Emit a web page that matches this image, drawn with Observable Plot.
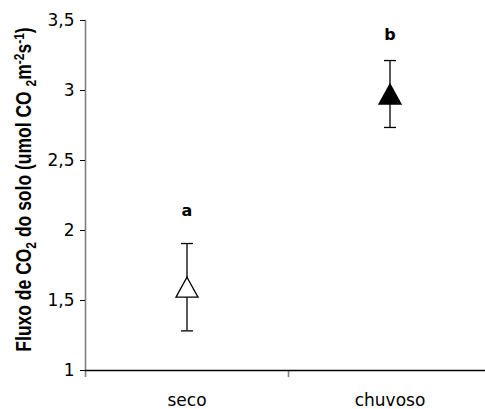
<!DOCTYPE html>
<html>
<head>
<meta charset="utf-8">
<script src="https://cdn.jsdelivr.net/npm/d3@7"></script>
<script src="https://cdn.jsdelivr.net/npm/@observablehq/plot@0.6"></script>
<style>
  html, body { margin: 0; padding: 0; background: #fff; }
  svg { display: block; }
</style>
</head>
<body>
<div id="chart"></div>
<script>
const categories = ["seco", "chuvoso"];
const categoryPos = [0.5, 1.5];
const means = [1.595, 2.975];
const errors = [0.312, 0.239];
const letters = ["a", "b"];
const letterY = [2.14, 3.40];
const fills = ["white", "black"];
const yTicks = [1, 1.5, 2, 2.5, 3, 3.5];
const boundaries = [0, 1, 2];

const data = categories.map((c, i) => ({
  pos: categoryPos[i], cat: c, mean: means[i],
  lo: means[i] - errors[i], hi: means[i] + errors[i],
  letter: letters[i], ly: letterY[i], fill: fills[i]
}));

// triangle centered on its bounding box
const tri = {
  draw(ctx, size) {
    const r = Math.sqrt(size / Math.PI);
    const h = r * 20 / 11;
    ctx.moveTo(0, -h / 2);
    ctx.lineTo(r, h / 2);
    ctx.lineTo(-r, h / 2);
    ctx.closePath();
  }
};
const cap = {
  draw(ctx, size) {
    const r = Math.sqrt(size / Math.PI);
    ctx.moveTo(-r, 0);
    ctx.lineTo(r, 0);
  }
};

const font = "'DejaVu Sans', sans-serif";

const chart = Plot.plot({
  width: 485,
  height: 409,
  marginLeft: 85,
  marginRight: 0,
  marginTop: 20,
  marginBottom: 39,
  style: { fontFamily: font, fontSize: "17px", color: "black", background: "white" },
  x: { domain: [0, 2], range: [85, 491] },
  y: { domain: [1, 3.5] },
  marks: [
    Plot.frame({ anchor: "left", stroke: "#808080", strokeWidth: 1.6 }),
    Plot.axisX({ ticks: boundaries, tickSize: 7, tickFormat: () => "", stroke: "#808080", strokeWidth: 1.6, label: null }),
    Plot.axisX({ ticks: categoryPos, tickSize: 0, tickPadding: 23,
      tickFormat: (v, i) => categories[i], label: null, fontSize: 17 }),
    Plot.ruleY([1], { stroke: "black", strokeWidth: 1.3 }),
    Plot.axisY({ ticks: yTicks, tickSize: 5, tickPadding: 6, tickFormat: v => String(v).replace(".", ","),
      stroke: "black", fontSize: 17,
      label: "Fluxo de CO2 do solo (umol CO 2m-2s-1)", labelAnchor: "center", labelArrow: "none", labelOffset: 70 }),
    Plot.ruleX(data, { x: "pos", y1: "lo", y2: "hi", stroke: "black", strokeWidth: 1.3 }),
    Plot.dot(data, { x: "pos", y: "lo", symbol: cap, r: 6, stroke: "black", strokeWidth: 1.3 }),
    Plot.dot(data, { x: "pos", y: "hi", symbol: cap, r: 6, stroke: "black", strokeWidth: 1.3 }),
    Plot.dot(data, { x: "pos", y: "mean", symbol: tri, r: 11, fill: "fill", stroke: "black", strokeWidth: 1.3 }),
    Plot.text(data, { x: "pos", y: "ly", text: "letter", fontWeight: "bold", fontSize: 16, lineAnchor: "middle" })
  ]
});

document.getElementById("chart").appendChild(chart);

// rich y-axis label with sub/superscripts (glyphs slightly stretched like the original)
const lab = d3.select(chart).selectAll("g[aria-label='y-axis label'] text");
lab.each(function () {
  const t = d3.select(this);
  const tr = t.attr("transform") || "";
  t.attr("transform", tr + " scale(1,1.25)");
  t.text("").attr("font-weight", "bold").attr("font-size", 17.5).attr("fill", "black")
    .attr("font-family", "'Liberation Sans', Arial, sans-serif");
  const parts = [
    ["Fluxo de CO", 0], ["2", 1], [" do solo (umol CO ", 0], ["2", 1], ["m", 0],
    ["-2", -1], ["s", 0], ["-1", -1], [")", 0]
  ];
  let shift = 0;
  let first = true;
  for (const [s, k] of parts) {
    const target = k === 1 ? 4 : k === -1 ? -6 : 0;
    const sp = t.append("tspan").attr("dy", target - shift).text(s);
    if (first) { sp.attr("dx", 6); first = false; }
    if (k !== 0) sp.attr("font-size", 12);
    shift = target;
  }
});
</script>
</body>
</html>
